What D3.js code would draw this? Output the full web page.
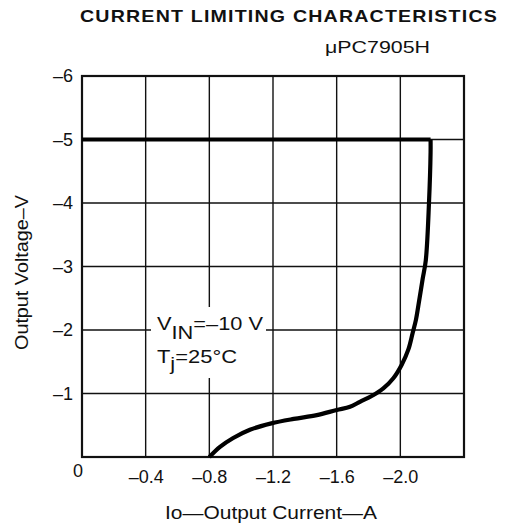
<!DOCTYPE html>
<html><head><meta charset="utf-8">
<script src="https://cdn.jsdelivr.net/npm/d3@7"></script>
<style>body{margin:0;background:#fff}text{font-family:"Liberation Sans",Arial,sans-serif;fill:#111}</style>
</head><body>
<svg id="c" width="511" height="525"></svg>
<script>
const title = "CURRENT LIMITING CHARACTERISTICS";
const subtitle = "\u03bcPC7905H";
const xTicks = [0, -0.4, -0.8, -1.2, -1.6, -2.0, -2.4];
const xTickLabels = ["", "\u20130.4", "\u20130.8", "\u20131.2", "\u20131.6", "\u20132.0", ""];
const yTicks = [0, -1, -2, -3, -4, -5, -6];
const yTickLabels = ["", "\u20131", "\u20132", "\u20133", "\u20134", "\u20135", "\u20136"];
const current = [0, -2.19, -2.19, -2.18, -2.16, -2.14, -2.113, -2.098, -2.077, -2.05, -2.008, -1.956, -1.893, -1.82, -1.746, -1.684, -1.6, -1.475, -1.33, -1.19, -1.055, -0.95, -0.867, -0.8];
const voltage = [-5, -5, -4.8, -4, -3.1, -2.8, -2.38, -2.16, -1.95, -1.69, -1.45, -1.24, -1.08, -0.96, -0.87, -0.79, -0.74, -0.66, -0.60, -0.53, -0.43, -0.30, -0.16, 0];

const svg = d3.select("#c");
const x = d3.scaleLinear().domain([0, -2.4]).range([82, 464]);
const y = d3.scaleLinear().domain([0, -6]).range([457, 76]);

// grid
svg.append("g").selectAll("line").data(xTicks).join("line")
  .attr("x1", d => x(d)).attr("x2", d => x(d)).attr("y1", y(0)).attr("y2", y(-6))
  .attr("stroke", "#111").attr("stroke-width", 1.4);
svg.append("g").selectAll("line").data(yTicks).join("line")
  .attr("x1", x(0)).attr("x2", x(-2.4)).attr("y1", d => y(d)).attr("y2", d => y(d))
  .attr("stroke", "#111").attr("stroke-width", 1.4);
// frame
svg.append("rect").attr("x", x(0)).attr("y", y(-6)).attr("width", x(-2.4) - x(0)).attr("height", y(0) - y(-6))
  .attr("fill", "none").attr("stroke", "#111").attr("stroke-width", 2.2);

// axes labels via d3 axes (no lines)
const xAxis = svg.append("g").attr("transform", `translate(0,${y(0)})`)
  .call(d3.axisBottom(x).tickValues(xTicks).tickFormat((d, i) => xTickLabels[i]).tickSize(0).tickPadding(13));
xAxis.select(".domain").remove();
xAxis.selectAll("text").style("font-family", '"Liberation Sans",Arial,sans-serif').style("font-size", "18px").attr("fill", "#111");
const yAxis = svg.append("g").attr("transform", `translate(${x(0)},0)`)
  .call(d3.axisLeft(y).tickValues(yTicks).tickFormat((d, i) => yTickLabels[i]).tickSize(0).tickPadding(9));
yAxis.select(".domain").remove();
yAxis.selectAll("text").style("font-family", '"Liberation Sans",Arial,sans-serif').style("font-size", "18px").attr("fill", "#111");
svg.append("text").attr("x", 78).attr("y", 477).attr("text-anchor", "middle").style("font-size", "18px").text("0");

// curve: flat part then limiting knee
const pts = current.map((c, i) => [c, voltage[i]]);
const flat = d3.line().x(d => x(d[0])).y(d => y(d[1]));
const knee = d3.line().x(d => x(d[0])).y(d => y(d[1])).curve(d3.curveCatmullRom.alpha(0.5));
svg.append("path").datum(pts.slice(0, 2))
  .attr("d", flat).attr("fill", "none").attr("stroke", "#000").attr("stroke-width", 4.2);
svg.append("path").datum(pts.slice(1))
  .attr("d", knee).attr("fill", "none").attr("stroke", "#000").attr("stroke-width", 4.2).attr("stroke-linejoin", "round");

// annotation box
svg.append("rect").attr("x", 151).attr("y", 307).attr("width", 115).attr("height", 71).attr("fill", "#fff");
const a1 = svg.append("text").attr("x", 157).attr("y", 330).attr("textLength", 106).attr("lengthAdjust", "spacingAndGlyphs").style("font-size", "18px");
a1.append("tspan").text("V");
a1.append("tspan").attr("dy", 9).text("IN");
a1.append("tspan").attr("dy", -9).text("=\u201310 V");
const a2 = svg.append("text").attr("x", 157).attr("y", 363).attr("textLength", 80).attr("lengthAdjust", "spacingAndGlyphs").style("font-size", "18px");
a2.append("tspan").text("T");
a2.append("tspan").attr("dy", 7).text("j");
a2.append("tspan").attr("dy", -7).text("=25\u00b0C");

// titles
svg.append("text").attr("x", 80).attr("y", 22).attr("textLength", 418).attr("lengthAdjust", "spacingAndGlyphs")
  .style("font-size", "16.5px").style("font-weight", "bold").style("letter-spacing", "1px").text(title);
svg.append("text").attr("x", 325).attr("y", 53).attr("textLength", 105).attr("lengthAdjust", "spacingAndGlyphs").style("font-size", "17px").text(subtitle);
svg.append("text").attr("x", 165).attr("y", 519).attr("textLength", 212).attr("lengthAdjust", "spacingAndGlyphs").style("font-size", "18px").text("Io\u2014Output Current\u2014A");
svg.append("text").attr("transform", "translate(28,350) rotate(-90)").attr("textLength", 155).attr("lengthAdjust", "spacingAndGlyphs").style("font-size", "18px").text("Output Voltage\u2013V");
</script>
</body></html>
